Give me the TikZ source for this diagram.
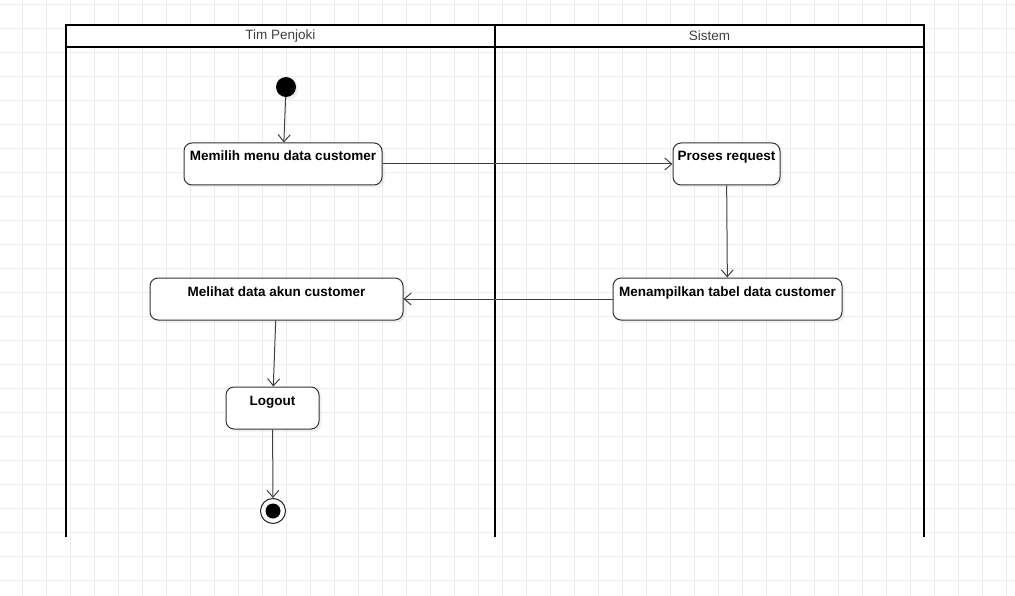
\documentclass[tikz,border=0pt]{standalone}
\usepackage{fontspec}
\setmainfont{Liberation Sans}
\usetikzlibrary{arrows.meta}
\usetikzlibrary{positioning}
\usetikzlibrary{shadows}

\begin{document}
\begin{tikzpicture}[x=1pt,y=-1pt,>={Straight Barb[length=7pt,width=12pt]}]
        \tikzset{act/.style={draw=black!80, fill=white, rounded corners=8pt, line width=1pt, align=center,
            font=\fontsize{13.5}{15}\selectfont\bfseries, inner xsep=3pt, inner ysep=0pt,
            text height=18pt, text depth=24pt,
            drop shadow={shadow xshift=2.5pt, shadow yshift=-2.5pt, opacity=0.12}},
        initial/.style={circle, fill=black, minimum size=20pt, inner sep=0pt,
            drop shadow={shadow xshift=2.5pt, shadow yshift=-2.5pt, opacity=0.12}},
        final/.style={circle, draw=black!85, line width=1pt, fill=white, minimum size=25pt, inner sep=0pt},
        lanehead/.style={draw, line width=2pt, fill=white, outer sep=0pt, inner sep=0pt,
            minimum width=429pt, minimum height=22pt,
            font=\fontsize{13.5}{15}\selectfont, text=black!75},
        lane/.style={line width=2.5pt},
        gridline/.style={draw=black!7, line width=0.8pt}
        }
        \useasboundingbox (0,0) rectangle (1015,596);
%% background grid
        \foreach \gx in {22,46,...,1006} \draw[gridline] (\gx,0) -- (\gx,596);
        \foreach \gy in {4,28,...,580} \draw[gridline] (0,\gy) -- (1015,\gy);

%% swimlanes
        \node [lanehead] (penjoki) at (280.5,36) {Tim Penjoki};
        \node [lanehead, right =0pt of penjoki] (sistem) {Sistem};
        \draw[lane] (penjoki.south west) -- ++(0,490);
        \draw[lane] (penjoki.south east) -- ++(0,490);
        \draw[lane] (sistem.south east) -- ++(0,490);

        \node [initial] (start) at (286,87) {};
        \node [act, minimum width=198pt] (memilih) at (283,164) {Memilih menu data customer};
        \node [act, minimum width=107pt, right =290pt of memilih] (proses) {Proses request};
        \node [act, minimum width=229pt] (menampilkan) at (727.5,299) {Menampilkan tabel data customer};
        \node [act, minimum width=253pt, left =209pt of menampilkan] (melihat) {Melihat data akun customer};
        \node [act, minimum width=93pt] (logout) at (272.5,408) {Logout};
        \node [final] (end) at (273,511) {};
        \fill (end.center) circle (7.5pt);

%% paths
        \path[draw=black!75, line width=1pt, ->] (start) edge (memilih)
                    (memilih) edge (proses)
                    (proses) edge (menampilkan)
                    (menampilkan) edge (melihat)
                    (melihat) edge (logout)
                    (logout) edge (end)
                    ;
\end{tikzpicture}
\end{document}
